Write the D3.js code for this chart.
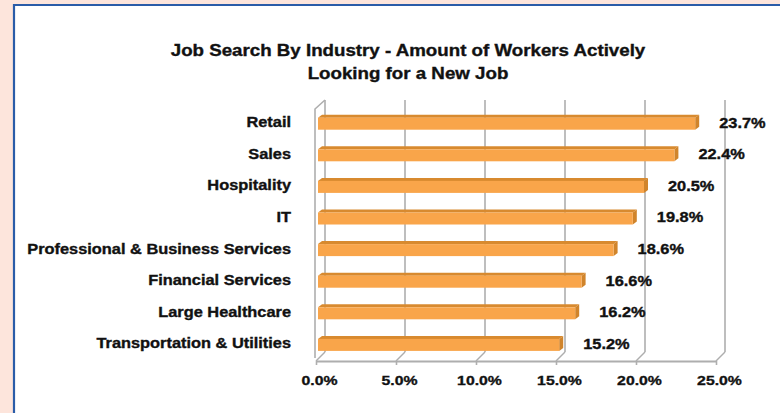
<!DOCTYPE html>
<html>
<head>
<meta charset="utf-8">
<script src="https://cdn.jsdelivr.net/npm/d3@7"></script>
<style>
  html, body { margin: 0; padding: 0; background: #fde5dc; }
  svg { display: block; }
  text { paint-order: stroke; stroke: #111; stroke-width: 0.35px; }
</style>
</head>
<body>
<svg id="chart" width="780" height="413"></svg>
<script>
// Industries, top to bottom
const categories = [
  "Retail",
  "Sales",
  "Hospitality",
  "IT",
  "Professional & Business Services",
  "Financial Services",
  "Large Healthcare",
  "Transportation & Utilities"
];
// Share of workers actively looking for a new job (%)
const values = [23.7, 22.4, 20.5, 19.8, 18.6, 16.6, 16.2, 15.2];
// Axis ticks (%)
const tickValues = [0, 5, 10, 15, 20, 25];
const titleLines = [
  "Job Search By Industry - Amount of Workers Actively",
  "Looking for a New Job"
];

const FONT = "Liberation Sans, Arial, Helvetica, sans-serif";
const STRETCH = 1.17;   // wide heavy grotesque look
const svg = d3.select("#chart");
const W = 780, H = 413;

// Place text at (px, py) with a horizontal stretch around its anchor
function placeText(sel, px, py) {
  return sel.attr("x", 0).attr("y", 0)
    .attr("transform", (d, i) => `translate(${px(d, i)},${py(d, i)}) scale(${STRETCH},1)`);
}

// Panel: pink margin, blue frame, white interior
svg.append("rect").attr("width", W).attr("height", H).attr("fill", "#fde5dc");
svg.append("rect").attr("x", 14).attr("y", 5).attr("width", W - 14).attr("height", H - 5).attr("fill", "#fff");
svg.append("line").attr("x1", 14).attr("x2", 14).attr("y1", 4).attr("y2", H).attr("stroke", "#2a5ca8").attr("stroke-width", 2.2);
svg.append("line").attr("x1", 13).attr("x2", W).attr("y1", 5).attr("y2", 5).attr("stroke", "#2a5ca8").attr("stroke-width", 2.2);

// Title
svg.append("g").selectAll("text").data(titleLines).join("text")
  .call(placeText, () => 408, (d, i) => 56 + i * 23)
  .attr("text-anchor", "middle")
  .attr("font-family", FONT)
  .attr("font-weight", "bold").attr("font-size", 16)
  .attr("fill", "#111")
  .text(d => d);

// Pseudo-3D geometry
const depthX = 9, depthY = -9;
const frontBottom = 361;
const x = d3.scaleLinear().domain([0, 25]).range([316, 716]);
const y = d3.scaleBand().domain(categories).range([98.1, 370.5]).padding(0.62);

const gridColor = "#aeaeae";
const g = svg.append("g");

// Back wall gridlines
g.selectAll("line.grid").data(tickValues).join("line")
  .attr("class", "grid")
  .attr("x1", d => x(d) + depthX).attr("x2", d => x(d) + depthX)
  .attr("y1", 100).attr("y2", frontBottom + depthY)
  .attr("stroke", gridColor).attr("stroke-width", 1.6);

// Floor diagonals from front axis to back wall
g.selectAll("line.floor").data(tickValues).join("line")
  .attr("class", "floor")
  .attr("x1", d => x(d)).attr("x2", d => x(d) + depthX)
  .attr("y1", frontBottom).attr("y2", frontBottom + depthY)
  .attr("stroke", gridColor).attr("stroke-width", 1.4);

// Left side wall
g.append("path")
  .attr("d", `M${x(0) - 1},${frontBottom - 3} L${x(0) - 1},${100 - depthY} L${x(0) + depthX},100`)
  .attr("fill", "none").attr("stroke", gridColor).attr("stroke-width", 1.6);

// Front axis line and ticks
const axis = d3.axisBottom(x).tickValues(tickValues).tickSize(4).tickSizeOuter(0)
  .tickFormat(d => d3.format(".1f")(d) + "%");
const axisG = svg.append("g").attr("transform", `translate(0,${frontBottom})`).call(axis);
axisG.select(".domain").attr("stroke", gridColor).attr("stroke-width", 2);
axisG.selectAll(".tick line").attr("stroke", gridColor).attr("stroke-width", 1.6);
axisG.selectAll(".tick text")
  .attr("y", 0).attr("dy", "0.71em")
  .attr("transform", `translate(3,14) scale(${STRETCH},1)`)
  .attr("font-family", FONT)
  .attr("font-weight", "bold").attr("font-size", 13.5).attr("fill", "#111");

// Bars: front face, top face and end cap
const barDX = 4, barDY = -3;
const bars = svg.append("g").selectAll("g.bar").data(categories.map((c, i) => ({ c, v: values[i] })))
  .join("g").attr("class", "bar");
const x0 = x(0) + 2;
bars.append("path")
  .attr("d", d => {
    const yt = y(d.c), x1 = x(d.v);
    return `M${x0},${yt} L${x0 + barDX},${yt + barDY} L${x1 + barDX},${yt + barDY} L${x1},${yt} Z`;
  })
  .attr("fill", "#d88a2f");
bars.append("path")
  .attr("d", d => {
    const yt = y(d.c), x1 = x(d.v), h = y.bandwidth();
    return `M${x1},${yt} L${x1 + barDX},${yt + barDY} L${x1 + barDX},${yt + h + barDY} L${x1},${yt + h} Z`;
  })
  .attr("fill", "#d0842b");
bars.append("rect")
  .attr("x", x0).attr("y", d => y(d.c))
  .attr("width", d => x(d.v) - x0).attr("height", y.bandwidth())
  .attr("fill", "#f9a54a");

// Value labels
bars.append("text")
  .call(placeText, d => x(d.v) + 24, d => y(d.c) + y.bandwidth() / 2 - 1)
  .attr("dy", "0.35em")
  .attr("font-family", FONT)
  .attr("font-weight", "bold").attr("font-size", 14).attr("fill", "#111")
  .text(d => d3.format(".1f")(d.v) + "%");

// Category labels
svg.append("g").selectAll("text").data(categories).join("text")
  .call(placeText, () => 291, d => y(d) + y.bandwidth() / 2 - 1.5)
  .attr("dy", "0.35em")
  .attr("text-anchor", "end")
  .attr("font-family", FONT)
  .attr("font-weight", "bold").attr("font-size", 14).attr("fill", "#111")
  .text(d => d);
</script>
</body>
</html>
